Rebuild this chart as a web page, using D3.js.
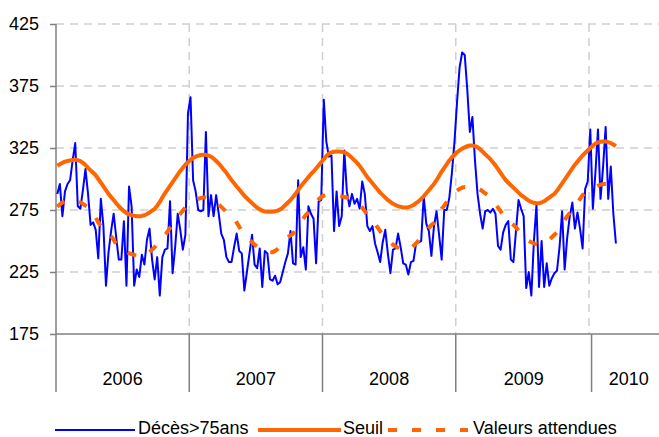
<!DOCTYPE html>
<html><head><meta charset="utf-8">
<script src="https://cdn.jsdelivr.net/npm/d3@7"></script>
<style>
html,body{margin:0;padding:0;background:#fff;}
svg{display:block;}
text{font-family:"Liberation Sans",Arial,sans-serif;fill:#000;}
</style></head>
<body><svg id="c" width="659" height="437"></svg>
<script>
// ---- data ----
const years = ["2006","2007","2008","2009","2010"];
const yearWeeks = [52,52,52,53,29];
const yTicks = [175,225,275,325,375,425];
const seriesNames = ["Décès>75ans","Seuil","Valeurs attendues"];

const deces = [
// 2006
288,296,270,290,296,299,315,329,278,276,291,308,288,263,265,259,236,284,262,214,241,258,272,253,235,235,266,214,294,278,214,227,221,239,231,251,260,235,219,237,206,237,243,244,282,224,245,272,259,243,255,353,
// 2007
366,299,290,275,274,275,338,270,287,270,287,272,256,251,237,233,233,245,256,242,240,210,225,240,255,231,228,244,213,242,240,219,218,222,215,217,225,233,240,258,232,231,299,237,245,227,278,272,268,232,282,283,
// 2008
364,330,318,319,258,290,262,270,323,290,278,288,280,284,276,298,288,262,258,262,248,241,233,249,259,240,224,243,244,256,245,232,231,223,233,234,248,249,250,286,264,258,238,262,274,255,235,275,275,285,305,330,
// 2009
362,390,402,400,372,338,350,315,288,272,260,274,275,273,276,272,246,243,257,263,266,235,233,258,283,276,270,212,225,206,250,279,213,250,213,232,214,220,224,226,245,274,227,253,270,281,260,273,260,244,292,298,340,
// 2010
276,305,340,284,310,342,284,310,272,248
];

const seuil = [
310.7,312,313,314,314.5,315,315.3,315.5,315.2,314.5,313,311.3,309,307,305,303,300,297,294,291,288,285.5,283,280.5,278,276,274,272.5,271.5,270.8,270.3,270,270,270.2,270.8,271.8,273,274.5,276,278.5,281.5,285,288.5,291.5,294.5,297.5,300.5,303.5,306.5,309,311.5,313.5,
315.5,317,318,318.8,319.3,319.5,319.5,319,318,316.5,314.5,312.5,310,307.5,305,302,299,296.5,294,291.5,289,286.5,284.5,282.5,280.5,278.5,277,275.5,274.5,273.8,273.5,273.5,273.6,274,274.5,275.5,277,279,281,283,285.5,288,291,294,296.5,299,301.5,304,306,308.5,311,313.5,
316,318.5,320.5,321.5,322,322.2,322.2,322,321.5,320.5,319,317,315,313,310.5,307.5,304.5,301.5,299,296.5,294,291.5,289,287,285,283,281.5,280,279,278,277.5,277,277,277.3,278,279,280.5,282,284,286,288.5,291,293.5,296,299,302.5,306,309,312,315,317.5,319.5,
321.5,323,324.5,325.5,326.5,327,327,326.5,325.5,324,322,320,318,316,313.5,311,308,305,302,299,297,295,293,291,289,287,285.5,284,282.5,281.5,280.8,280.4,280.5,281,282,283.5,285,286.5,288,290.5,293.5,296.5,299.5,302.5,305.5,308.5,311.5,314,316.5,319,321,323,325,
327,328.5,329.5,330,330.3,330.2,329.7,329,327.8,326.5
];

const attendues = [
277.6,279.5,281,282,282.7,283,283,282.8,282.2,281.3,280,278.5,277,275.5,272.5,269,265,262,260.5,258.5,256.7,254,251,247.5,245,243,241.8,241,240.2,239.5,238.8,238,237.5,237.3,238,239.5,241,243,245,247.5,250,252,254.5,257.5,260.5,263.5,266.5,269.5,272,274.5,277,279,
280.5,282,283,284,284.7,285,285,284.5,284,283,281.5,279.5,277.5,275.5,273.5,272,270.5,268.5,265,261.5,258,255,253,251,249,247,245.5,244,242.5,241.5,241,241,241,242,243.5,245.5,248,250.5,253,254.5,256,259,262,265,268,271,273,275,278,281,283.5,285.5,
286.5,287,287,287,286.8,286.5,286.2,286,285.5,285,284,283,282,281,279,277,274,271,268.5,266,264,261,258,255,252,250.5,249,247,245.5,244.5,243.5,243,242.8,242.7,244,246,248,250.5,253,255.5,258,260.5,263,264.5,268,272,276,278.5,281.5,284,286.5,288.5,
290.5,292,293,293.5,293.5,293.5,293.3,293,292.5,291.5,290,288.5,287,285,282.5,280,277,274,271,268,266.5,264.5,263,261,258.5,256,253.5,251,250,249,248,247.5,247.2,247,247.5,249,251,253,255,257,260,263.5,267,270,272.5,275,278,281,284,287,288.5,290,291,
292,293.5,294.5,295.5,296,296,296,295,293.5,292
];

(function(){
// ---- layout ----
const W = 659;
const mLeft = 56, mTop = 24, mBottom = 334;
const nCats = d3.sum(yearWeeks);
const catW = 2.5625;
const svg = d3.select("#c");

const x = d3.scaleLinear().domain([0, nCats]).range([mLeft, mLeft + nCats*catW]);
const y = d3.scaleLinear().domain([175, 425]).range([mBottom, mTop]);

const blue = "#0000FF", orange = "#FF6600", grid = "#D0D0D0", axisC = "#808080";

svg.append("defs").append("clipPath").attr("id","clip")
  .append("rect").attr("x", mLeft).attr("y", 0).attr("width", W-mLeft).attr("height", mBottom+2);

// horizontal gridlines
svg.append("g").selectAll("line").data(yTicks.filter(v=>v>175)).join("line")
  .attr("x1", mLeft).attr("x2", W).attr("y1", d=>y(d)).attr("y2", d=>y(d))
  .attr("stroke", grid).attr("stroke-width", 1.5).attr("stroke-dasharray","8,6");

// vertical gridlines every 52 categories
svg.append("g").selectAll("line").data(d3.range(52, nCats, 52)).join("line")
  .attr("x1", d=>x(d)).attr("x2", d=>x(d)).attr("y1", mTop).attr("y2", mBottom)
  .attr("stroke", grid).attr("stroke-width", 1.5).attr("stroke-dasharray","8,6");

// y axis
const yAxis = d3.axisLeft(y).tickValues(yTicks).tickSize(6).tickPadding(11).tickFormat(d3.format("d"));
const ga = svg.append("g").attr("transform", `translate(${mLeft},0)`).call(yAxis);
ga.select(".domain").remove();
ga.selectAll(".tick line").attr("stroke", axisC).attr("stroke-width",1.5);
ga.selectAll(".tick text").attr("font-size", "18px").attr("font-family","Liberation Sans, Arial, sans-serif").attr("fill","#000");

// year group boundaries
const bounds = [0];
yearWeeks.forEach((w,i)=>bounds.push(bounds[i]+w));
svg.append("line").attr("x1", mLeft).attr("x2", mLeft).attr("y1", mTop).attr("y2", 392)
  .attr("stroke", axisC).attr("stroke-width", 1.5);
svg.append("line").attr("x1", mLeft).attr("x2", W).attr("y1", mBottom).attr("y2", mBottom)
  .attr("stroke", axisC).attr("stroke-width", 1.5);
svg.append("g").selectAll("line").data(bounds.slice(1, -1)).join("line")
  .attr("x1", d=>x(d)).attr("x2", d=>x(d)).attr("y1", mBottom).attr("y2", 392)
  .attr("stroke", axisC).attr("stroke-width", 1.5);
svg.append("g").selectAll("text").data(years).join("text")
  .attr("x", (d,i)=>x((bounds[i]+bounds[i+1])/2)).attr("y", 385)
  .attr("text-anchor","middle").attr("font-size","18px").text(d=>d);

// series
const line = d3.line().x((d,i)=>x(i+0.5)).y(d=>y(d));
const plot = svg.append("g").attr("clip-path","url(#clip)");
plot.append("path").datum(deces).attr("d", line).attr("fill","none")
  .attr("stroke", blue).attr("stroke-width", 2).attr("stroke-linejoin","round");
plot.append("path").datum(seuil).attr("d", line).attr("fill","none")
  .attr("stroke", orange).attr("stroke-width", 4).attr("stroke-linejoin","round");
plot.append("path").datum(attendues).attr("d", line).attr("fill","none")
  .attr("stroke", orange).attr("stroke-width", 4).attr("stroke-dasharray","9,15");

// legend
const ly = 430;
const leg = svg.append("g");
const items = [
  {x1:55, x2:135, tx:138, color:blue, w:2, dash:null},
  {x1:258, x2:341, tx:343, color:orange, w:4, dash:null},
  {x1:388, x2:468, tx:473, color:orange, w:4, dash:"9,15"}
];
items.forEach((it,i)=>{
  leg.append("line").attr("x1", it.x1).attr("x2", it.x2).attr("y1", ly).attr("y2", ly)
    .attr("stroke", it.color).attr("stroke-width", it.w).attr("stroke-dasharray", it.dash);
  leg.append("text").attr("x", it.tx).attr("y", 434).attr("font-size","18px").text(seriesNames[i]);
});
})();
</script></body></html>
